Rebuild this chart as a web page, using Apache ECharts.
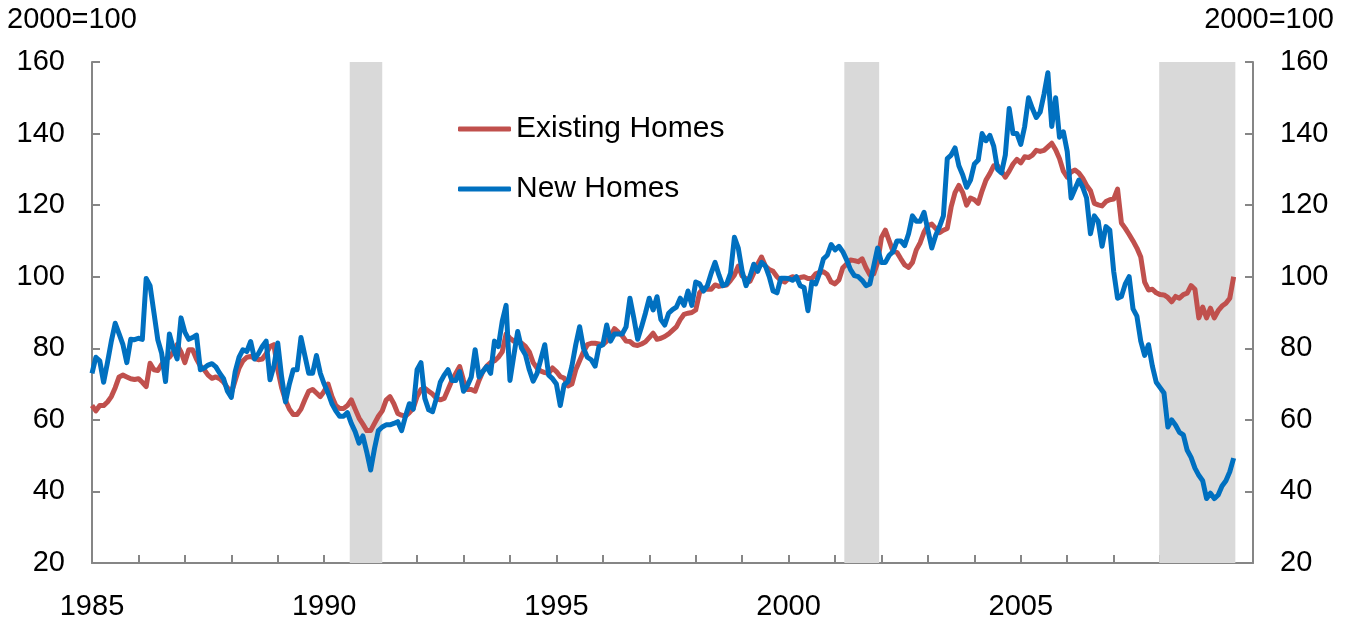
<!DOCTYPE html>
<html>
<head>
<meta charset="utf-8">
<title>Existing vs New Homes</title>
<script src="https://cdn.jsdelivr.net/npm/echarts@6/dist/echarts.min.js"></script>
<style>
  html, body { margin: 0; padding: 0; background: #fff; }
  #chart { width: 1353px; height: 625px; }
</style>
</head>
<body>
<div id="chart"></div>
<script>
// monthly index, 2000=100, from Jan 1985
var startYear = 1985;

var existingHomes = [
  64, 62.5, 64, 64, 65, 66.5, 69, 72, 72.5, 72, 71.5, 71.3,
  71.5, 70.5, 69.3, 75.8, 74, 73.8, 75.5, 77, 77.5, 79, 81, 79,
  76, 79.6, 79.6, 77, 75, 74, 72.5, 71.6, 72, 71.5, 70.5, 69,
  67.5, 71, 74.5, 76.5, 77.5, 77.7, 77.2, 76.8, 77, 78.5, 80.5, 81,
  74, 69, 65.5, 63, 61.5, 61.5, 63, 65.6, 68, 68.5, 67.5, 66.5,
  68, 70, 66.5, 64, 63.2, 63.2, 64, 65.6, 63, 60.5, 58.8, 57,
  57, 59, 61, 62.5, 65.5, 66.5, 64.5, 61.8, 61.3, 61, 62, 63.2,
  66.5, 68.5, 68.8, 68, 67.2, 66, 65.6, 66, 68.5, 71, 73, 74.9,
  71, 68.5, 68.5, 68, 71, 73.5, 75, 76, 76.5, 77.5, 79, 84,
  82.8, 82, 81.7, 81.4, 80.5, 79, 76, 74.5, 73.6, 73.2, 73, 74.5,
  73.5, 72.1, 71.7, 69.5, 70, 74, 76.5, 79, 81, 81.4, 81.4, 81.2,
  81, 82, 83.5, 85.5, 84.5, 83.5, 82, 81.9, 81, 80.8, 81.2, 81.8,
  83, 84.2, 82.5, 82.8, 83.3, 84, 85, 86, 88, 89.5, 89.8, 90,
  90.7, 95.5, 96.8, 96.5, 96.5, 97.7, 97.3, 97.5, 97.7, 99, 100.5, 103,
  100.2, 99.5, 98.7, 101, 103.5, 105.5, 103, 102, 101.5, 100, 99, 98.5,
  99.5, 100, 99.7, 99.8, 100, 99.5, 99.5, 100.8, 101.2, 101.4, 100.6, 98.5,
  98, 99.1, 102.5, 103.5, 104.7, 104.5, 104.2, 105, 102.5, 100.5, 100.8, 104,
  111, 113, 110, 107, 106.8, 105, 103.3, 102.6, 104, 107.5, 109.5, 112.5,
  114.3, 114.7, 113.5, 112.3, 113, 113.5, 119.5, 123.5, 125.5, 123.5, 120, 122,
  121.5, 120.5, 124, 127, 128.8, 131, 131, 129.5, 127.8, 129.5, 131.5, 132.8,
  131.8, 133.5, 133.3, 134, 135.3, 135, 135.3, 136.3, 137.3, 135.5, 133, 129.5,
  127.8, 129.3, 129.8, 129, 127.5, 125.5, 124, 120.5, 120.1, 119.8, 121, 121.5,
  121.7, 124.5, 115, 113.5, 111.8, 110, 108, 105.5, 98.5, 96.3, 96.5, 95.5,
  95, 94.9, 94.2, 93, 94.5, 94, 95, 95.4, 97.5, 96.5, 88.5, 91.5,
  88.5, 91.2, 88.5, 90.5, 91.8, 92.6, 94, 100
];

var newHomes = [
  73, 77.5, 76.5, 70.5, 76, 82, 87, 84, 81, 76, 82.5, 82.4,
  82.8, 82.5, 99.5, 97.5, 90, 82.4, 78.6, 70.7, 84, 80, 77, 88.5,
  84.5, 82.5, 83, 83.7, 74, 74.5, 75.3, 75.7, 74.8, 73, 71.5, 68,
  66.3, 73.5, 77.5, 79.6, 79.1, 81.9, 77, 78.5, 80.5, 82, 71.2, 75,
  81.5, 72, 65, 70, 74, 74, 83, 78, 73, 73, 78, 73,
  70, 67.5, 64.5, 62.5, 61, 61, 62, 59, 56.7, 53.5, 55.5, 51,
  46, 52, 57, 58, 58.6, 58.6, 59, 59.5, 57, 61, 64.5, 63,
  74, 76, 66, 62.8, 62.3, 66, 70.5, 72.5, 74, 71, 71, 73.5,
  68, 69.5, 72, 79.6, 72, 73.5, 74.9, 73, 82, 80.5, 87.5, 92,
  71, 78, 84.7, 80, 78.2, 74, 70.8, 73, 77, 81, 72.5, 71.5,
  70, 64, 69.8, 70.7, 75, 81, 86, 80, 77.5, 76.8, 75, 80.5,
  81, 86.5, 82, 84, 84, 84, 86, 94, 88.5, 82.5, 86, 89.8,
  94, 90.7, 94.4, 88, 86.5, 89.8, 90.8, 91.5, 94, 92, 96, 92,
  98.5, 98, 96, 97.5, 101, 104, 100.5, 97.5, 98, 101, 111, 108,
  101.5, 97.5, 100, 103.5, 101.5, 104, 103, 100, 96, 95.5, 99.6, 99.6,
  99.5, 99, 100, 97.5, 97, 90.5, 98.5, 98, 101, 105, 106, 109,
  107.5, 108.5, 107, 104.7, 102, 100.3, 100, 99, 97.5, 98, 103, 108,
  104, 104, 106, 107, 110, 110, 108.7, 112, 117, 115.5, 115.5, 118,
  113, 108, 111.5, 114, 117, 133, 134, 136, 131, 128.4, 125, 127,
  131.5, 132.6, 140, 138, 139.5, 136.5, 130, 129, 134, 147, 140, 140,
  137, 142, 150, 147, 144.5, 146, 151, 157, 142, 150, 139, 140.5,
  135, 122, 124.5, 127, 125, 122, 112, 117, 115.5, 108.5, 114, 113,
  101.5, 94, 94.5, 98, 100, 91, 89, 82, 78, 81, 75, 70.5,
  69, 67.5, 58, 60, 58.5, 56.5, 55.8, 51.5, 49.5, 46.5, 44.5, 43,
  38, 39.5, 38, 39, 41.5, 43, 45.5, 49.3
];

// recession bands (fractional years)
var recessions = [
  [1990.55, 1991.25],
  [2001.2, 2001.95],
  [2007.98, 2009.62]
];

var yTicks = { min: 20, max: 160, interval: 20 };

function toPoints(arr) {
  return arr.map(function (v, i) { return [startYear + i / 12, v]; });
}

var axisGray = '#868686';
var font = 'Liberation Sans, Arial, sans-serif';

function yAxisCfg(pos) {
  return {
    type: 'value',
    position: pos,
    min: yTicks.min, max: yTicks.max, interval: yTicks.interval,
    axisLine: { show: true, lineStyle: { color: axisGray, width: 2 } },
    axisTick: { show: true, inside: true, length: 8, lineStyle: { color: axisGray, width: 2 } },
    axisLabel: { color: '#000', fontSize: 29, fontFamily: font, margin: 27 },
    splitLine: { show: false }
  };
}

var chart = echarts.init(document.getElementById('chart'));

chart.setOption({
  animation: false,
  grid: { left: 92, right: 100, top: 62, bottom: 62 },
  xAxis: {
    type: 'value',
    min: 1985, max: 2010, interval: 1,
    axisLine: { show: true, onZero: false, lineStyle: { color: axisGray, width: 2 } },
    axisTick: { show: true, inside: true, length: 8, lineStyle: { color: axisGray, width: 2 } },
    axisLabel: {
      color: '#000', fontSize: 29, fontFamily: font, margin: 29,
      formatter: function (v) { return (v % 5 === 0 && v < 2010) ? String(v) : ''; }
    },
    splitLine: { show: false }
  },
  yAxis: [yAxisCfg('left'), yAxisCfg('right')],
  legend: {
    orient: 'vertical',
    left: 453, top: 106,
    itemWidth: 53, itemHeight: 5,
    itemGap: 24,
    icon: 'roundRect',
    textStyle: { color: '#000', fontSize: 30, fontFamily: font, lineHeight: 36 },
    data: ['Existing Homes', 'New Homes']
  },
  graphic: [
    { type: 'text', left: 7, top: 5, style: { text: '2000=100', fontSize: 29, fontFamily: font, fill: '#000' } },
    { type: 'text', right: 19, top: 5, style: { text: '2000=100', fontSize: 29, fontFamily: font, fill: '#000' } }
  ],
  series: [
    {
      // recession shading only
      type: 'line', data: [], z: 1, silent: true,
      markArea: {
        silent: true,
        itemStyle: { color: '#d9d9d9' },
        data: recessions.map(function (r) { return [{ xAxis: r[0] }, { xAxis: r[1] }]; })
      }
    },
    {
      name: 'Existing Homes', type: 'line', z: 3,
      data: toPoints(existingHomes),
      showSymbol: false,
      lineStyle: { color: '#c0504d', width: 5, join: 'round' },
      itemStyle: { color: '#c0504d' }
    },
    {
      name: 'New Homes', type: 'line', z: 4,
      data: toPoints(newHomes),
      showSymbol: false,
      lineStyle: { color: '#0070c0', width: 5, join: 'round' },
      itemStyle: { color: '#0070c0' }
    }
  ]
});
</script>
</body>
</html>
